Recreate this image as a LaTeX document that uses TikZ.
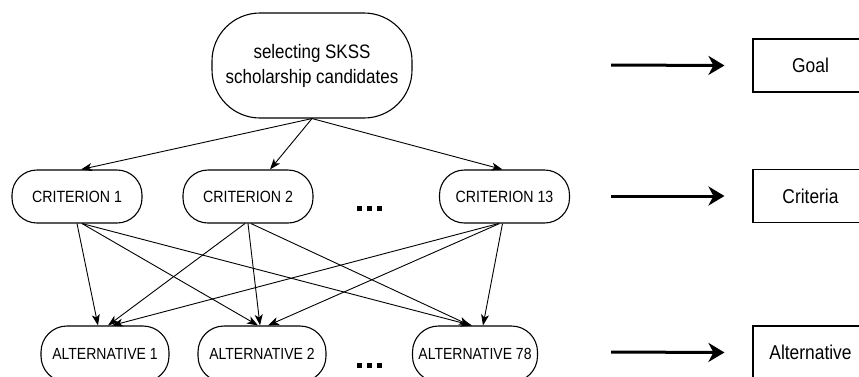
\documentclass[tikz,border=0pt]{standalone}
\usepackage{fontspec}
\setmainfont{Liberation Sans}[FakeStretch=0.87]
\usetikzlibrary{arrows.meta}
\begin{document}
\begin{tikzpicture}[x=1pt,y=-1pt,
  goalbox/.style={draw,line width=1.1pt,rounded corners=48pt,minimum width=200pt,minimum height=105pt,align=center,font=\fontsize{19.5}{25}\selectfont,inner sep=0pt},
  critbox/.style={draw,line width=1.1pt,rounded corners=25pt,minimum width=130pt,minimum height=53pt,font=\fontsize{16.3}{19}\selectfont,inner sep=0pt},
  altbox/.style={draw,line width=1.1pt,rounded corners=26pt,minimum width=128pt,minimum height=56pt,font=\fontsize{16.1}{19}\selectfont,inner sep=0pt},
  levelbox/.style={draw,line width=1.1pt,minimum width=115pt,minimum height=53pt,font=\fontsize{20}{23}\selectfont,inner sep=0pt},
  edge/.style={line width=0.9pt,-{Stealth[length=11pt,width=8pt,inset=3pt]}},
  bigarrow/.style={line width=3pt,-{Stealth[length=16pt,width=19pt,inset=5pt]}},
  dotsq/.style={fill=black,minimum size=5pt,inner sep=0pt}
]
\useasboundingbox (0,0) rectangle (859,376);
\clip (0,0) rectangle (859,376);

\node[goalbox] (goal) at (312,65.5) {selecting SKSS\\scholarship candidates};
\node[critbox] (c1) at (77,196.5) {CRITERION 1};
\node[critbox] (c2) at (248,196.5) {CRITERION 2};
\node[critbox] (c13) at (504.5,196.5) {CRITERION 13};
\node[altbox] (a1) at (105,354) {ALTERNATIVE 1};
\node[altbox] (a2) at (262,354) {ALTERNATIVE 2};
\node[altbox,minimum width=125pt] (a78) at (475,354) {ALTERNATIVE 78};

\foreach \x [count=\i] in {359,369,379} {
  \node[dotsq] (du\i) at (\x,208) {};
  \node[dotsq] (dl\i) at (\x,365) {};
}

\node[levelbox] (lg) at (810.5,65.5) {Goal};
\node[levelbox] (lc) at (810.5,196) {Criteria};
\node[levelbox] (la) at (810.5,352.5) {Alternative};

\coordinate (ag1) at (611,65);
\coordinate (ac1) at (611,196);
\coordinate (aa1) at (611,352);
\draw[bigarrow] (ag1) -- ([xshift=-28pt]lg.west);
\draw[bigarrow] (ac1) -- ([xshift=-28pt]lc.west);
\draw[bigarrow] (aa1) -- ([xshift=-28pt]la.west);

% goal to criteria
\draw[edge] (goal.south) -- ([xshift=4pt]c1.north);
\draw[edge] (goal.south) -- ([xshift=22pt]c2.north);
\draw[edge] (goal.south) -- ([xshift=-2pt]c13.north);

% criteria to alternatives
\draw[edge] (c1.south) -- ([xshift=-7pt]a1.north);
\draw[edge] ([xshift=5pt]c1.south) -- ([xshift=-4pt]a2.north);
\draw[edge] ([xshift=5pt]c1.south) -- ([xshift=-3pt]a78.north);

\draw[edge] ([xshift=-3pt]c2.south) -- ([xshift=3pt]a1.north);
\draw[edge] (c2.south) -- ([xshift=-2pt]a2.north);
\draw[edge] ([xshift=3pt]c2.south) -- ([xshift=-5pt]a78.north);

\draw[edge] ([xshift=-6pt]c13.south) -- ([xshift=7pt]a1.north);
\draw[edge] ([xshift=-5pt]c13.south) -- ([xshift=6pt]a2.north);
\draw[edge] ([xshift=-2pt]c13.south) -- ([xshift=8pt]a78.north);
\end{tikzpicture}
\end{document}
